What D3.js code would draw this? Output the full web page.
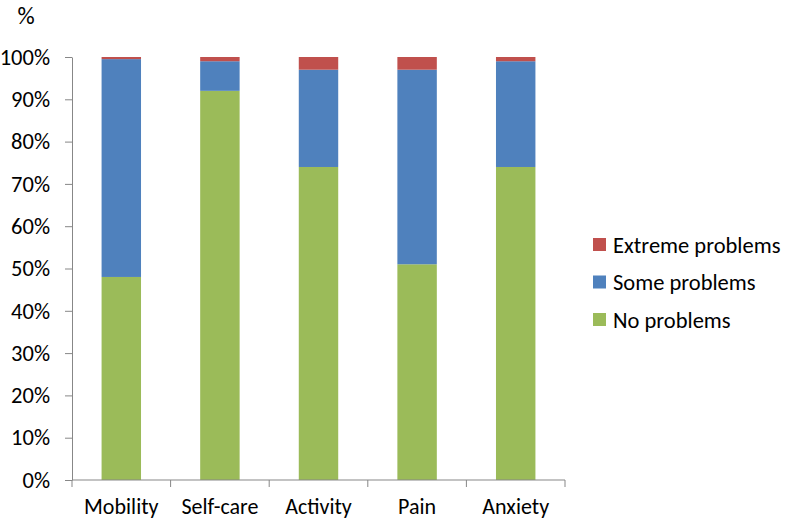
<!DOCTYPE html>
<html>
<head>
<meta charset="utf-8">
<script src="https://cdn.jsdelivr.net/npm/d3@7"></script>
<style>
  body { margin: 0; background: #fff; }
  text { font-family: Carlito, "Open Sans", sans-serif; }
</style>
</head>
<body>
<script>
const categories = ["Mobility", "Self-care", "Activity", "Pain", "Anxiety"];
const noProblems = [48, 92, 74, 51, 74];
const someProblems = [51.5, 7, 23, 46, 25];
const extremeProblems = [0.5, 1, 3, 3, 1];
const yTicks = [0, 10, 20, 30, 40, 50, 60, 70, 80, 90, 100];

const seriesNames = ["No problems", "Some problems", "Extreme problems"];
const colors = ["#9bbb59", "#4f81bd", "#c0504d"];

const width = 787, height = 521;
const margin = { top: 57, right: 222, bottom: 41, left: 72 };
const plotW = width - margin.left - margin.right,
      plotH = height - margin.top - margin.bottom;

const svg = d3.select("body").append("svg")
    .attr("width", width)
    .attr("height", height);

const g = svg.append("g")
    .attr("transform", `translate(${margin.left},${margin.top})`);

const table = categories.map((c, i) => ({
    cat: c,
    "No problems": noProblems[i],
    "Some problems": someProblems[i],
    "Extreme problems": extremeProblems[i]
}));
const stacked = d3.stack().keys(seriesNames)(table);

const x = d3.scaleBand()
    .domain(categories)
    .range([0, plotW])
    .paddingInner(0.6)
    .paddingOuter(0.3);

const y = d3.scaleLinear()
    .domain([0, 100])
    .range([plotH, 0]);

// bars
g.selectAll("g.series")
    .data(stacked)
    .join("g")
    .attr("class", "series")
    .attr("fill", (d, i) => colors[i])
    .selectAll("rect")
    .data(d => d)
    .join("rect")
    .attr("x", d => x(d.data.cat))
    .attr("y", d => y(d[1]))
    .attr("width", x.bandwidth())
    .attr("height", d => y(d[0]) - y(d[1]));

// y axis
const yAxis = g.append("g")
    .call(d3.axisLeft(y)
        .tickValues(yTicks)
        .tickFormat(d => d + "%")
        .tickSize(7)
        .tickPadding(15)
        .tickSizeOuter(0));
yAxis.select(".domain").attr("stroke", "#878787");
yAxis.selectAll(".tick line").attr("stroke", "#878787");
yAxis.selectAll(".tick text")
    .attr("fill", "#000")
    .style("font-size", "22.5px");

// x axis, ticks sit between the categories
const xAxis = g.append("g")
    .attr("transform", `translate(0,${plotH})`);
xAxis.append("line")
    .attr("x1", 0).attr("x2", plotW)
    .attr("stroke", "#878787");
xAxis.selectAll("line.edge")
    .data(d3.range(categories.length + 1))
    .join("line")
    .attr("class", "edge")
    .attr("x1", i => i * plotW / categories.length)
    .attr("x2", i => i * plotW / categories.length)
    .attr("y1", 0).attr("y2", 7)
    .attr("stroke", "#878787");
xAxis.selectAll("text")
    .data(categories)
    .join("text")
    .attr("x", d => x(d) + x.bandwidth() / 2)
    .attr("y", 34)
    .attr("text-anchor", "middle")
    .style("font-size", "22px")
    .text(d => d);

// axis title
svg.append("text")
    .attr("x", 26)
    .attr("y", 24)
    .attr("text-anchor", "middle")
    .style("font-size", "24px")
    .text("%");

// legend
const legend = svg.append("g")
    .attr("transform", "translate(593,245)");
const legendOrder = [2, 1, 0];
legend.selectAll("g")
    .data(legendOrder)
    .join("g")
    .attr("transform", (d, i) => `translate(0,${i * 37.5})`)
    .call(s => {
        s.append("rect")
            .attr("x", 0).attr("y", -7)
            .attr("width", 13).attr("height", 13)
            .attr("fill", d => colors[d]);
        s.append("text")
            .attr("x", 20)
            .attr("y", 0)
            .attr("dy", "0.35em")
            .style("font-size", "22.5px")
            .text(d => seriesNames[d]);
    });
</script>
</body>
</html>
